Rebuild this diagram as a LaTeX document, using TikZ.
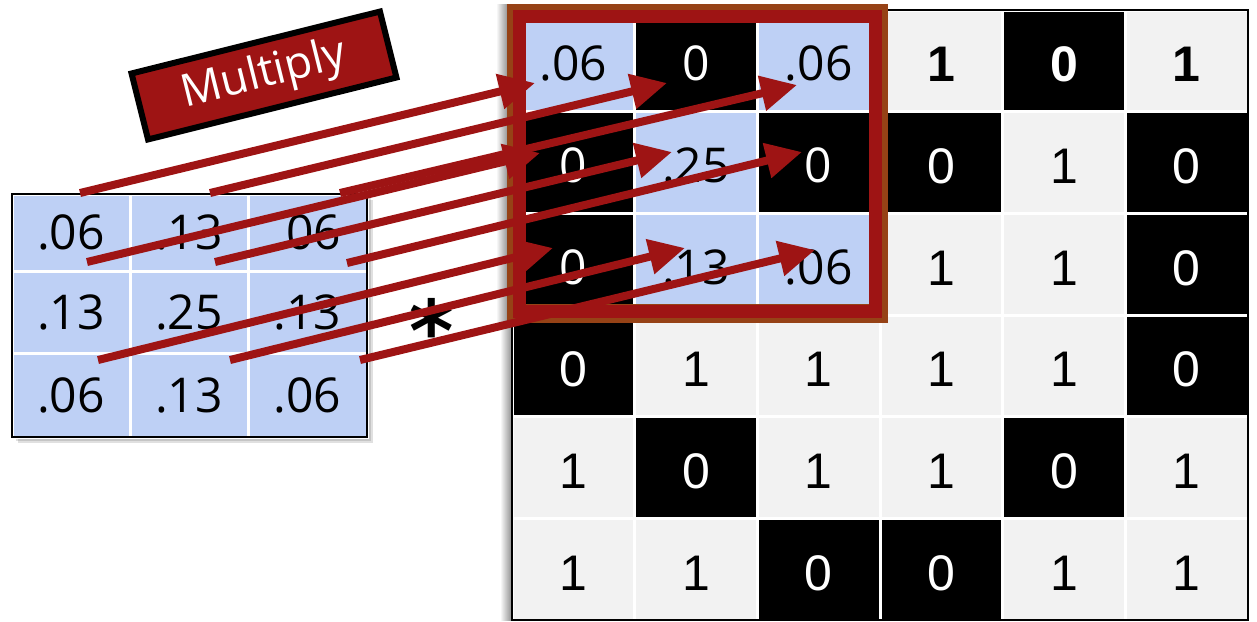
\documentclass[tikz,border=0pt]{standalone}
\usepackage{fontspec}
\setmainfont{Liberation Sans}
\newfontfamily\kfont{Open Sans}
\newfontfamily\symfont{DejaVu Sans}
\usetikzlibrary{arrows.meta,calc}
\definecolor{kblue}{RGB}{190,208,245}
\definecolor{cgrey}{RGB}{242,242,242}
\definecolor{dred}{RGB}{158,20,20}
\definecolor{frbrown}{RGB}{150,66,22}
\begin{document}
\begin{tikzpicture}[x=1pt,y=-1pt,
  gcell/.style={draw=white,line width=3pt,inner sep=0pt,minimum width=122.67pt,minimum height=101.67pt,text height=42pt,text depth=0pt,font=\fontsize{50}{50}\selectfont},
  ocell/.style={draw=white,line width=3pt,inner sep=0pt,minimum width=122.67pt,minimum height=101.67pt,text height=40pt,text depth=0pt,font=\kfont\fontsize{48}{48}\selectfont},
  kcell/.style={draw=white,line width=3pt,inner sep=0pt,fill=kblue,font=\kfont\fontsize{48}{48}\selectfont},
  arr/.style={draw=dred,line width=8pt,-{Triangle[length=36pt,width=34pt]}},
]
\useasboundingbox (0,0) rectangle (1257,621);
% ---------- big grid ----------
\shade[left color=white,right color=black!45] (500,10) rectangle (512,620);
\foreach \row [count=\r] in {{1,0,1,1,0,1},{0,1,0,0,1,0},{0,1,1,1,1,0},{0,1,1,1,1,0},{1,0,1,1,0,1},{1,1,0,0,1,1}} {
  \foreach \v [count=\c] in \row {
    \pgfmathsetmacro\cx{512+122.67*(\c-0.5)}
    \pgfmathsetmacro\cy{10+101.67*(\r-0.5)}
    \ifnum\v=1 \def\fc{cgrey}\def\tc{black}\else\def\fc{black}\def\tc{white}\fi
    \ifnum\r=1 \def\fw{\bfseries}\else\def\fw{}\fi
    \node[gcell,fill=\fc,text=\tc] (g\r\c) at (\cx,\cy) {\fw\v};
  }
}
\draw[line width=2.5pt] (512,10) rectangle (1248,620);
% ---------- overlay window ----------
\shade[left color=white,right color=black!40] (496,4) rectangle (507,322);
\foreach \v/\r/\c/\fc/\tc in {.06/1/1/kblue/black, 0/1/2/black/white, .06/1/3/kblue/black,
                              0/2/1/black/white, .25/2/2/kblue/black, 0/2/3/black/white,
                              0/3/1/black/white, .13/3/2/kblue/black, .06/3/3/kblue/black} {
  \pgfmathsetmacro\cx{512+122.67*(\c-0.5)}
  \pgfmathsetmacro\cy{10+101.67*(\r-0.5)}
  \node[ocell,fill=\fc,text=\tc] (o\r\c) at (\cx,\cy) {\v};
}
\draw[frbrown,line width=19pt] (516.5,13.5) rectangle (878,313.5);
\draw[dred,line width=13pt] (519.5,16.5) rectangle (875.5,311.5);
% ---------- kernel ----------
\foreach \o in {2,4,6} \fill[black,opacity=0.12] (12+\o,194+\o) rectangle (367+\o,437+\o);
\foreach \v/\r/\c in {.06/1/1,.13/1/2,.06/1/3,.13/2/1,.25/2/2,.13/2/3,.06/3/1,.13/3/2,.06/3/3} {
  \ifcase\c\or\def\xa{12}\def\xb{130}\or\def\xa{130}\def\xb{248}\or\def\xa{248}\def\xb{367}\fi
  \ifcase\r\or\def\ya{194}\def\yb{271}\or\def\ya{271}\def\yb{353}\or\def\ya{353}\def\yb{437}\fi
  \pgfmathsetmacro\w{\xb-\xa}
  \pgfmathsetmacro\h{\yb-\ya}
  \node[kcell,minimum width=\w pt,minimum height=\h pt] (k\r\c) at ({(\xa+\xb)/2},{(\ya+\yb)/2}) {\v};
}
\draw[line width=2.5pt] (12,194) rectangle (367,437);
% ---------- asterisk ----------
\node[inner sep=0pt,anchor=north,font=\symfont\bfseries\fontsize{85}{85}\selectfont] (star) at (432,298) {*};
% ---------- arrows ----------
\coordinate (t11) at (80,193);  \coordinate (h11) at (535,83);
\coordinate (t12) at (210,193); \coordinate (h12) at (667,83);
\coordinate (t13) at (340,193); \coordinate (h13) at (797,85);
\coordinate (t21) at (87,262);  \coordinate (h21) at (540,153);
\coordinate (t22) at (215,262); \coordinate (h22) at (672,152);
\coordinate (t23) at (347,263); \coordinate (h23) at (802,152);
\coordinate (t31) at (98,360);  \coordinate (h31) at (553,248);
\coordinate (t32) at (230,360); \coordinate (h32) at (685,248);
\coordinate (t33) at (360,360); \coordinate (h33) at (815,250);
\foreach \i in {11,12,13,21,22,23,31,32,33} \draw[arr] (t\i) -- (h\i);
% ---------- Multiply label ----------
\node[rotate=14,fill=dred,draw=black,line width=6pt,minimum width=256pt,minimum height=68pt,inner sep=0pt,
      text=white,font=\kfont\fontsize{45}{45}\selectfont] (mult) at (264,75.5) {Multiply};
\end{tikzpicture}
\end{document}
